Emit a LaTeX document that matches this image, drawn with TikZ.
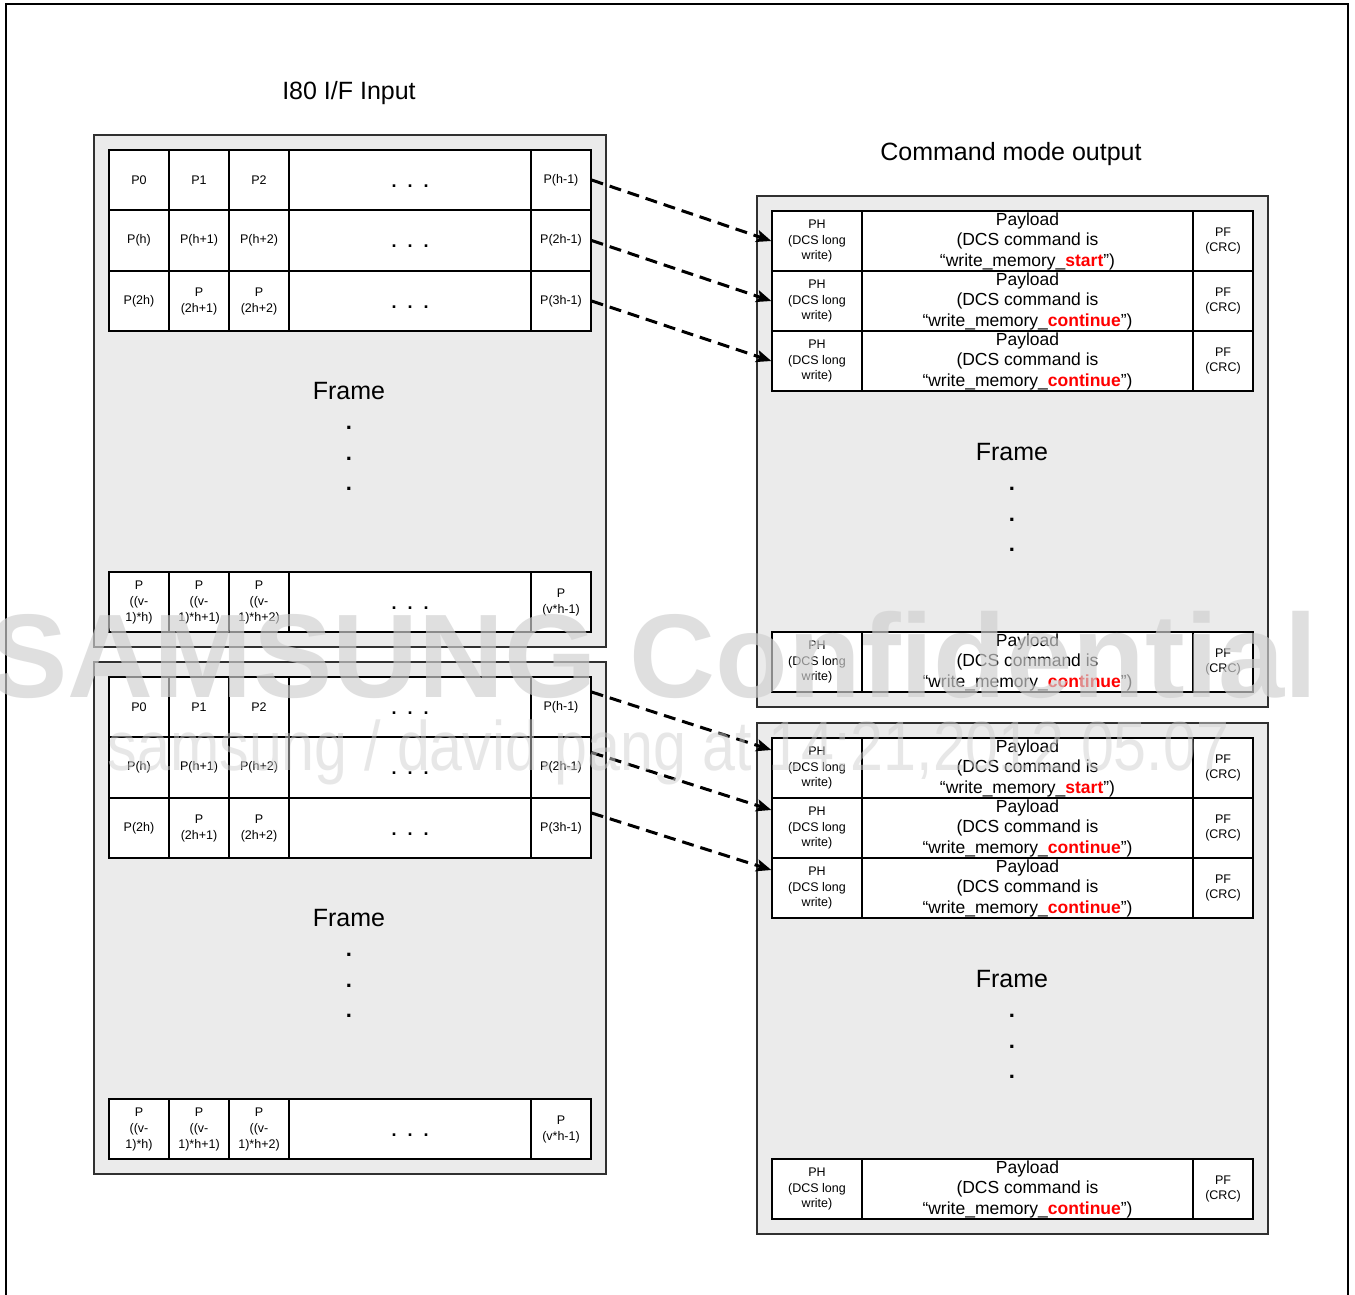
\documentclass[tikz,border=0pt]{standalone}
\usepackage{fontspec}
\setmainfont{Liberation Sans}
\usetikzlibrary{arrows.meta,calc}
\definecolor{panelgray}{HTML}{EBEBEB}
\definecolor{panelborder}{HTML}{303030}
\definecolor{wmgray}{HTML}{D0D0D0}
\definecolor{kwred}{HTML}{FF0000}
\tikzset{
  panel/.style={draw=panelborder, fill=panelgray, line width=1.5pt},
  cell/.style={draw=black, fill=white, line width=1.3pt, inner sep=0pt, align=center,
    font=\fontsize{12.5}{16}\selectfont},
  phcell/.style={cell, font=\fontsize{12.5}{15.5}\selectfont},
  paycell/.style={cell, font=\fontsize{17.5}{20.5}\selectfont},
  dotcell/.style={cell, font=\fontsize{18}{18}\selectfont\bfseries, text height=14pt, text depth=0pt},
  title/.style={font=\fontsize{25}{25}\selectfont, anchor=base, inner sep=0pt},
  framelbl/.style={font=\fontsize{25}{25}\selectfont, inner sep=0pt},
  framedot/.style={font=\fontsize{22}{22}\selectfont\bfseries, inner sep=0pt},
  flow/.style={draw=black, line width=3pt, dash pattern=on 12pt off 7pt,
    -{Stealth[length=15pt,width=12pt,inset=3pt]}},
  wm/.style={text=wmgray, text opacity=0.67, inner sep=0pt, anchor=base},
  pageframe/.style={draw=black, line width=2.5pt}
}
% left table row: prefix, y-center, height, texts
\newcommand{\lrow}[7]{%
  \node[cell,minimum width=60pt,minimum height=#3] (#1c1) at (139,#2) {#4};
  \node[cell,minimum width=60pt,minimum height=#3] (#1c2) at (199,#2) {#5};
  \node[cell,minimum width=60pt,minimum height=#3] (#1c3) at (259,#2) {#6};
  \node[dotcell,minimum width=242pt,minimum height=#3] (#1c4) at (410,#2) {.\hspace{11pt}.\hspace{11pt}.};
  \node[cell,minimum width=60pt,minimum height=#3] (#1c5) at (561,#2) {#7};
}
% right table row: prefix, y-center, keyword
\newcommand{\rrow}[3]{%
  \node[phcell,minimum width=90pt,minimum height=60pt] (#1ph) at (817,#2) {PH\\(DCS long\\write)};
  \node[paycell,minimum width=331pt,minimum height=60pt] (#1pl) at (1027.5,#2)
    {Payload\\(DCS command is\\“write\_memory\_\textcolor{kwred}{\textbf{#3}}”)};
  \node[phcell,minimum width=60pt,minimum height=60pt] (#1pf) at (1223,#2) {PF\\(CRC)};
}
% frame label with three dots: name, x, y
\newcommand{\framelabel}[3]{%
  \node[framelbl] (#1) at (#2,#3) {Frame};
  \node[framedot] (#1d1) at (#2,#3+37) {.};
  \node[framedot] (#1d2) at (#2,#3+67.5) {.};
  \node[framedot] (#1d3) at (#2,#3+98) {.};
}
% left panel: prefix, top y
\newcommand{\leftpanel}[2]{%
  \draw[panel] (94,#2) rectangle (606,#2+512);
  \lrow{#1r1}{#2+45}{60pt}{P0}{P1}{P2}{P(h-1)}
  \lrow{#1r2}{#2+105.5}{61pt}{P(h)}{P(h+1)}{P(h+2)}{P(2h-1)}
  \lrow{#1r3}{#2+166}{60pt}{P(2h)}{P\\(2h+1)}{P\\(2h+2)}{P(3h-1)}
  \lrow{#1rv}{#2+467}{60pt}{P\\((v-\\1)*h)}{P\\((v-\\1)*h+1)}{P\\((v-\\1)*h+2)}{P\\(v*h-1)}
  \framelabel{#1fr}{349}{#2+256}
}
% right panel: prefix, top y
\newcommand{\rightpanel}[2]{%
  \draw[panel] (757,#2) rectangle (1268,#2+511);
  \rrow{#1r1}{#2+45}{start}
  \rrow{#1r2}{#2+105}{continue}
  \rrow{#1r3}{#2+165}{continue}
  \rrow{#1rv}{#2+466}{continue}
  \framelabel{#1fr}{1012}{#2+256}
}
\begin{document}
\begin{tikzpicture}[x=1pt,y=-1pt]
  \useasboundingbox (0,0) rectangle (1355,1294);
  \fill[white] (0,0) rectangle (1355,1294);
  \draw[pageframe] (6,1296) -- (6,4) -- (1348,4) -- (1348,1296);

  \node[title] (tin) at (349,99) {I80 I/F Input};
  \node[title] (tout) at (1011,160) {Command mode output};

  \leftpanel{L1}{135}
  \leftpanel{L2}{662}
  \rightpanel{R1}{196}
  \rightpanel{R2}{723}

  \draw[flow] (L1r1c5.east) -- (R1r1ph.west);
  \draw[flow] (L1r2c5.east) -- (R1r2ph.west);
  \draw[flow] (L1r3c5.east) -- (R1r3ph.west);
  \draw[flow] ([yshift=15pt]L2r1c5.east) -- ([yshift=18pt]R2r1ph.west);
  \draw[flow] ([yshift=15pt]L2r2c5.east) -- ([yshift=18pt]R2r2ph.west);
  \draw[flow] ([yshift=15pt]L2r3c5.east) -- ([yshift=18pt]R2r3ph.west);

  \node[wm, font=\fontsize{119}{119}\selectfont\bfseries] (wm1) at (653,697) {SAMSUNG Confidential};
  \node[wm, text opacity=0.5, font=\fontsize{70}{70}\selectfont] (wm2) at (668.5,770)
    {\scalebox{0.845}[1]{samsung / david.pang at 14:21,2012.05.07}};
\end{tikzpicture}
\end{document}
